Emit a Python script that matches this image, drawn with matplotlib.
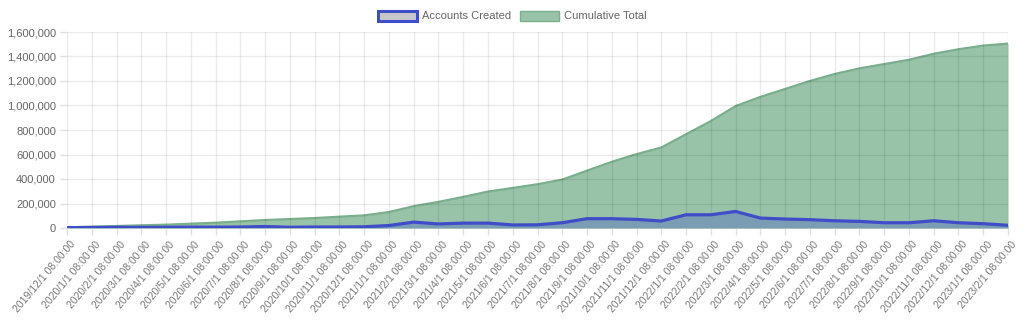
import numpy as np
import matplotlib
matplotlib.use('Agg')
from matplotlib import pyplot as plt
from matplotlib import transforms
from matplotlib.patches import Patch
from matplotlib.ticker import FuncFormatter

plt.rcParams['font.family'] = ['Liberation Sans', 'DejaVu Sans']

# 月份标签: 2019/12 ~ 2023/2
months = []
for y, m in [(2019, 12)] + [(yy, mm) for yy in (2020, 2021, 2022) for mm in range(1, 13)] + [(2023, 1), (2023, 2)]:
    months.append('%d/%d/1 08:00:00' % (y, m))

# 每月新建账户数
accounts_created = [3000, 4000, 6000, 5000, 6000, 7000, 7000, 8000, 12000, 6000,
                    8000, 8000, 10000, 20000, 48000, 33000, 40000, 40000, 25000, 26000,
                    43000, 76000, 76000, 70000, 57000, 108000, 108000, 135000, 81000, 73000,
                    68000, 59000, 54000, 43000, 43000, 59000, 43000, 35000, 22000]

# 累计总数
cumulative_total = [5000, 11000, 16000, 22000, 27000, 35000, 43000, 54000, 65000, 73000,
                    81000, 92000, 103000, 130000, 178000, 213000, 254000, 297000, 327000, 357000,
                    395000, 468000, 540000, 603000, 657000, 765000, 873000, 995000, 1070000, 1135000,
                    1200000, 1257000, 1303000, 1338000, 1373000, 1422000, 1459000, 1489000, 1505000]

x = np.arange(len(months))

fig = plt.figure(figsize=(10.24, 3.36), dpi=100)
ax = fig.add_axes([67 / 1024, 1 - 228 / 336, (1008 - 67) / 1024, (228 - 32) / 336])

# 累计总数 (绿色)
ax.fill_between(x, 0, cumulative_total, color='#98c3a9', lw=0, zorder=1)
ax.plot(x, cumulative_total, color='#7aae8c', lw=1.6, zorder=2)

# 新建账户 (蓝色)
ax.fill_between(x, 0, accounts_created, color='#7a9db3', lw=0, zorder=3)
ax.plot(x, accounts_created, color='#3f4dc8', lw=2.3, zorder=4, solid_joinstyle='round')

ax.set_xlim(0, len(months) - 1)
ax.set_ylim(0, 1600000)
ax.set_yticks(np.arange(0, 1600001, 200000))
ax.yaxis.set_major_formatter(FuncFormatter(lambda v, p: '{:,.0f}'.format(v)))
ax.set_xticks(x)

ax.grid(True, color=(0, 0, 0), alpha=0.08, lw=1)
ax.set_axisbelow(False)
for s in ax.spines.values():
    s.set_visible(False)
ax.tick_params(axis='both', color='#e0e0e0', length=5, width=1)
ax.tick_params(axis='y', labelcolor='#666666', labelsize=8, pad=3)
ax.tick_params(axis='x', labelcolor='#777777', labelsize=7.5, pad=5.5)

ax.set_xticklabels(months, rotation=50, ha='right', va='center', rotation_mode='anchor')
# 标签稍微往右挪一点
offset = transforms.ScaledTranslation(7 / 100, 0, fig.dpi_scale_trans)
for lab in ax.get_xticklabels():
    lab.set_transform(lab.get_transform() + offset)

handles = [Patch(facecolor='#c8c8cc', edgecolor='#3f4dc8', lw=2.2, label='Accounts Created'),
           Patch(facecolor='#98c3a9', edgecolor='#7aae8c', lw=1, label='Cumulative Total')]
fig.legend(handles=handles, loc='center', bbox_to_anchor=(0.5, 1 - 16 / 336), ncol=2,
           frameon=False, fontsize=8, handlelength=3.5, handleheight=1.0,
           columnspacing=0.8, handletextpad=0.45, labelcolor='#666666')

plt.savefig('out.png', dpi=100)
